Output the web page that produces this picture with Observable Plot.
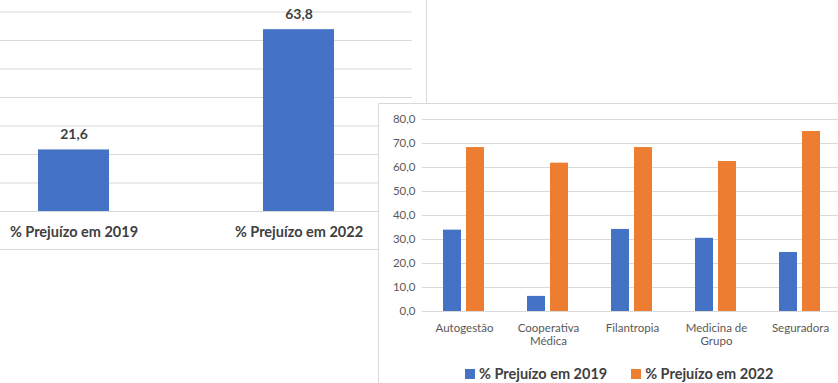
<!DOCTYPE html>
<html>
<head>
<meta charset="utf-8">
<script src="https://cdn.jsdelivr.net/npm/d3@7"></script>
<script src="https://cdn.jsdelivr.net/npm/@observablehq/plot@0.6"></script>
<style>
  html, body { margin: 0; padding: 0; background: #fff; width: 838px; height: 383px; overflow: hidden; position: relative; }
  #left { position: absolute; left: 0; top: 0; width: 426px; height: 249px; border-right: 1px solid #d9d9d9; border-bottom: 1px solid #d9d9d9; }
  #right { position: absolute; left: 378px; top: 103px; width: 520px; height: 320px; border: 1px solid #d9d9d9; background: #fff; overflow: hidden; }
  #legend { position: absolute; left: 86px; top: 253px; }
  .leg-swatch { margin-right: 24px !important; }
  .leg-swatch > svg { margin-right: 4px !important; }
</style>
</head>
<body>
<div id="left"></div>
<div id="right"><div id="legend"></div></div>
<script>
// ---- data: left chart (total) ----
const totalCategories = ["% Prejuízo em 2019", "% Prejuízo em 2022"];
const totalValues = [21.6, 63.8];
const leftTicks = [0, 10, 20, 30, 40, 50, 60, 70];

// ---- data: right chart (by segment) ----
const categories = ["Autogestão", "Cooperativa Médica", "Filantropia", "Medicina de Grupo", "Seguradora"];
const categoryLabels = ["Autogestão", "Cooperativa\nMédica", "Filantropia", "Medicina de\nGrupo", "Seguradora"];
const series = ["% Prejuízo em 2019", "% Prejuízo em 2022"];
const values2019 = [33.9, 6.3, 34.2, 30.5, 24.6];
const values2022 = [68.3, 61.8, 68.3, 62.5, 75.0];
const rightTicks = [0, 10, 20, 30, 40, 50, 60, 70, 80];
const colors = ["#4472C4", "#ED7D31"];

const ptBR = d3.formatLocale({decimal: ",", thousands: ".", grouping: [3], currency: ["", ""]});
const fmt1 = ptBR.format(".1f");

const font = "Lato, 'Open Sans', sans-serif";

// Left chart
const totalRows = totalCategories.map((c, i) => ({cat: c, v: totalValues[i]}));
const left = Plot.plot({
  width: 426, height: 249,
  marginLeft: 0, marginRight: 14, marginTop: 11.5, marginBottom: 38,
  style: {fontFamily: font, background: "transparent", overflow: "visible"},
  x: {domain: totalCategories, range: [-116, 488], padding: 0.684, axis: null},
  y: {domain: [0, 70], axis: null},
  marks: [
    Plot.gridY(leftTicks, {stroke: "#d9d9d9", strokeOpacity: 1}),
    Plot.barY(totalRows, {x: "cat", y: "v", fill: colors[0]}),
    Plot.text(totalRows, {x: "cat", y: "v", text: d => fmt1(d.v), dy: -15, fontSize: 14, fontWeight: "bold", fill: "#404040"}),
    Plot.axisX({tickSize: 0, tickPadding: 15, fontSize: 14.5, fontWeight: "bold", fill: "#404040", label: null})
  ]
});
document.getElementById("left").appendChild(left);

// Right chart
const rows = categories.flatMap((c, i) => [
  {cat: c, serie: series[0], v: values2019[i]},
  {cat: c, serie: series[1], v: values2022[i]}
]);
const right = Plot.plot({
  width: 470, height: 279,
  marginLeft: 41, marginRight: 5, marginTop: 15, marginBottom: 72,
  style: {fontFamily: font, background: "transparent"},
  fx: {domain: categories, padding: 0, label: null, axis: null},
  x: {domain: series, axis: null, paddingInner: 0.2, paddingOuter: 0.87},
  y: {domain: [0, 80], axis: null},
  color: {domain: series, range: colors},
  marks: [
    Plot.gridY(rightTicks, {stroke: "#d9d9d9", strokeOpacity: 1}),
    Plot.barY(rows, {fx: "cat", x: "serie", y: "v", fill: "serie"}),
    Plot.axisY(rightTicks, {tickSize: 0, tickPadding: 7, tickFormat: fmt1, fontSize: 11.5, fill: "#595959", label: null}),
    Plot.axisFx({anchor: "bottom", tickSize: 0, tickPadding: 11, tickFormat: d => categoryLabels[categories.indexOf(d)], fontSize: 11.5, fill: "#595959", label: null, lineHeight: 1.15})
  ]
});
document.getElementById("right").insertBefore(right, document.getElementById("legend"));
right.style.position = "absolute"; right.style.left = "0"; right.style.top = "0";

const legend = Plot.legend({
  color: {domain: series, range: colors},
  swatchSize: 10,
  className: "leg",
  style: {fontFamily: font, fontSize: "14.5px", fontWeight: "bold", color: "#404040"}
});
document.getElementById("legend").appendChild(legend);
</script>
</body>
</html>
